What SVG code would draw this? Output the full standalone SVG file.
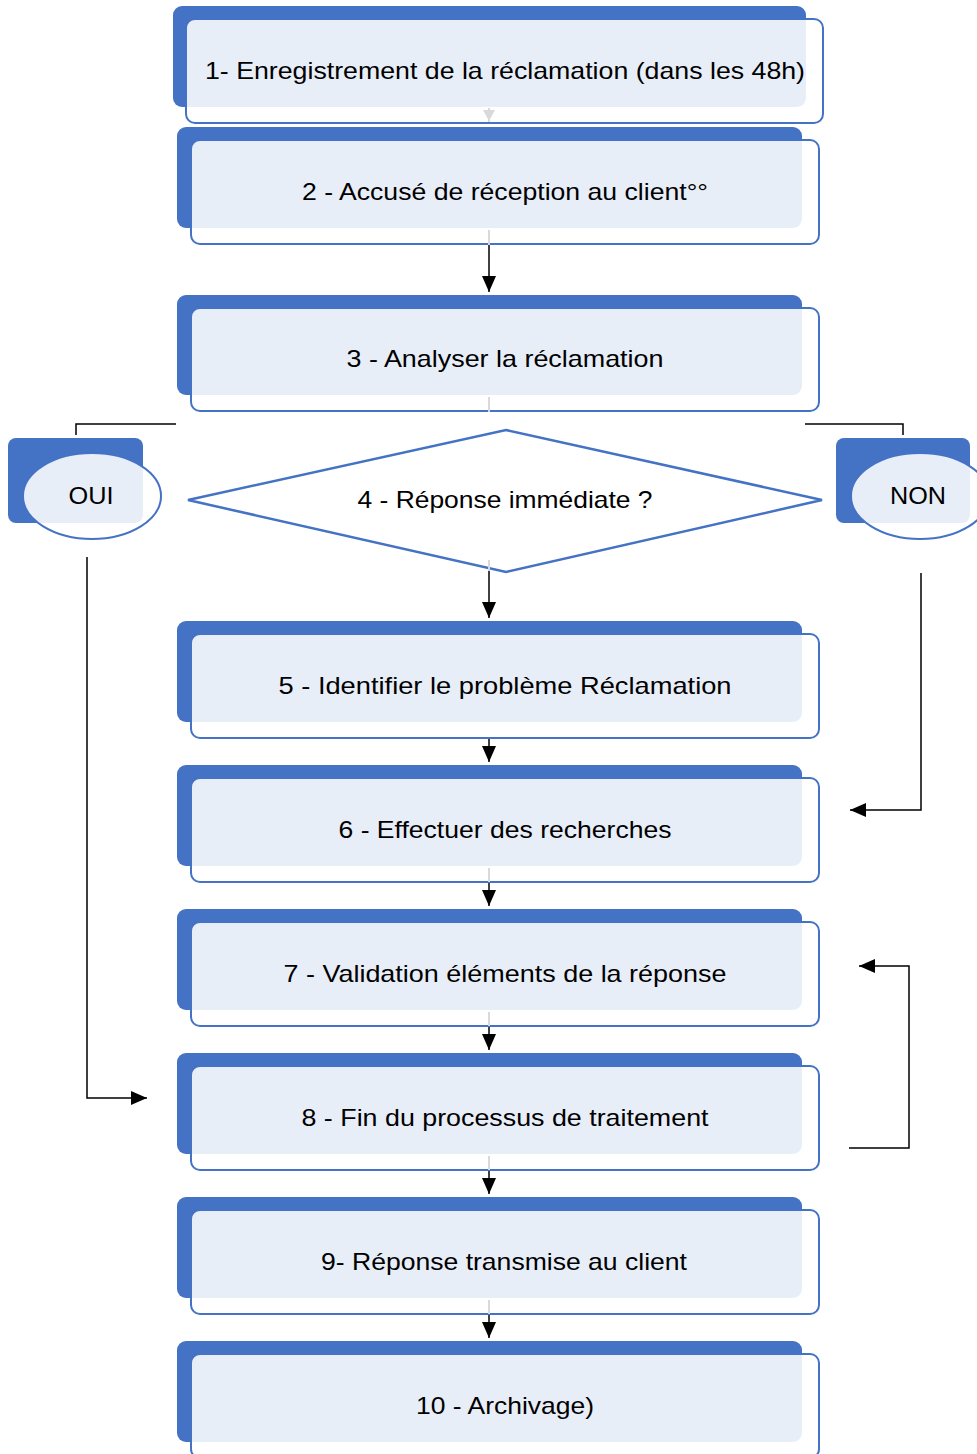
<svg xmlns="http://www.w3.org/2000/svg" width="977" height="1454" viewBox="0 0 977 1454">
<defs>
<style>
.back{fill:#4472C4}
.front{fill:#fff;fill-opacity:0.88;stroke:#4472C4;stroke-width:2}
.lbl{font-family:"Liberation Sans",Arial,sans-serif;font-size:24px;fill:#000;text-anchor:middle}
.con{fill:none;stroke:#000;stroke-width:1.5}
.faint{fill:none;stroke:#d9d9d9;stroke-width:2}
</style>
<marker id="ahb" viewBox="0 0 16 14" refX="16" refY="7" markerWidth="16" markerHeight="14" markerUnits="userSpaceOnUse" orient="auto">
<path d="M0,0 L16,7 L0,14 Z" fill="#000"/>
</marker>
</defs>
<rect width="977" height="1454" fill="#fff"/>

<g id="node1">
<rect class="back" x="173" y="6" width="633" height="101" rx="9"/>
<rect class="front" x="186" y="19" width="637" height="104" rx="9"/>
<text class="lbl" x="505" y="79" textLength="600" lengthAdjust="spacingAndGlyphs">1- Enregistrement de la réclamation (dans les 48h)</text>
</g>
<g id="node2">
<rect class="back" x="177" y="127" width="625" height="101" rx="9"/>
<rect class="front" x="191" y="140" width="628" height="104" rx="9"/>
<text class="lbl" x="505" y="200" textLength="406" lengthAdjust="spacingAndGlyphs">2 - Accusé de réception au client°°</text>
</g>
<g id="node3">
<rect class="back" x="177" y="295" width="625" height="100" rx="9"/>
<rect class="front" x="191" y="308" width="628" height="103" rx="9"/>
<text class="lbl" x="505" y="367" textLength="317" lengthAdjust="spacingAndGlyphs">3 - Analyser la réclamation</text>
</g>
<g id="node4">
<polygon points="188,500 506,430 822,500 506,572" fill="#fff" stroke="#4472C4" stroke-width="2.5"/>
<text class="lbl" x="505" y="508" textLength="295" lengthAdjust="spacingAndGlyphs">4 - Réponse immédiate ?</text>
</g>
<g id="oui">
<rect class="back" x="8" y="438" width="135" height="85" rx="8"/>
<ellipse class="front" cx="92" cy="496" rx="69" ry="43"/>
<text class="lbl" x="91" y="504" textLength="45" lengthAdjust="spacingAndGlyphs">OUI</text>
</g>
<g id="non">
<rect class="back" x="836" y="438" width="134" height="85" rx="8"/>
<ellipse class="front" cx="920" cy="496" rx="69" ry="43"/>
<text class="lbl" x="918" y="504" textLength="56" lengthAdjust="spacingAndGlyphs">NON</text>
</g>
<g id="node5">
<rect class="back" x="177" y="621" width="625" height="101" rx="9"/>
<rect class="front" x="191" y="634" width="628" height="104" rx="9"/>
<text class="lbl" x="505" y="694" textLength="453" lengthAdjust="spacingAndGlyphs">5 - Identifier le problème Réclamation</text>
</g>
<g id="node6">
<rect class="back" x="177" y="765" width="625" height="101" rx="9"/>
<rect class="front" x="191" y="778" width="628" height="104" rx="9"/>
<text class="lbl" x="505" y="838" textLength="333" lengthAdjust="spacingAndGlyphs">6 - Effectuer des recherches</text>
</g>
<g id="node7">
<rect class="back" x="177" y="909" width="625" height="101" rx="9"/>
<rect class="front" x="191" y="922" width="628" height="104" rx="9"/>
<text class="lbl" x="505" y="982" textLength="443" lengthAdjust="spacingAndGlyphs">7 - Validation éléments de la réponse</text>
</g>
<g id="node8">
<rect class="back" x="177" y="1053" width="625" height="101" rx="9"/>
<rect class="front" x="191" y="1066" width="628" height="104" rx="9"/>
<text class="lbl" x="505" y="1126" textLength="407" lengthAdjust="spacingAndGlyphs">8 - Fin du processus de traitement</text>
</g>
<g id="node9">
<rect class="back" x="177" y="1197" width="625" height="101" rx="9"/>
<rect class="front" x="191" y="1210" width="628" height="104" rx="9"/>
<text class="lbl" x="504" y="1270" textLength="366" lengthAdjust="spacingAndGlyphs">9- Réponse transmise au client</text>
</g>
<g id="node10">
<rect class="back" x="177" y="1341" width="625" height="101" rx="9"/>
<rect class="front" x="191" y="1354" width="628" height="104" rx="9"/>
<text class="lbl" x="505" y="1414" textLength="178" lengthAdjust="spacingAndGlyphs">10 - Archivage)</text>
</g>

<g id="connectors">
<path class="faint" d="M489,108 V122"/>
<path d="M483,110 L495,110 L489,121 Z" fill="#d9d9d9"/>
<path class="faint" d="M489,230 V245"/>
<path class="con" d="M489,245 V292" marker-end="url(#ahb)"/>
<path class="faint" d="M489,397 V412"/>
<path class="faint" d="M489,560 V571"/>
<path class="con" d="M489,571 V618" marker-end="url(#ahb)"/>
<path class="con" d="M489,739 V762" marker-end="url(#ahb)"/>
<path class="faint" d="M489,868 V882"/>
<path class="con" d="M489,883 V906" marker-end="url(#ahb)"/>
<path class="faint" d="M489,1012 V1026"/>
<path class="con" d="M489,1027 V1050" marker-end="url(#ahb)"/>
<path class="faint" d="M489,1156 V1170"/>
<path class="con" d="M489,1171 V1194" marker-end="url(#ahb)"/>
<path class="faint" d="M489,1300 V1314"/>
<path class="con" d="M489,1315 V1338" marker-end="url(#ahb)"/>
<path class="con" d="M76,435 V424 H176"/>
<path class="con" d="M805,424 H903 V435"/>
<path class="con" d="M87,557 V1098 H147" marker-end="url(#ahb)"/>
<path class="con" d="M921,573 V810 H850" marker-end="url(#ahb)"/>
<path class="con" d="M849,1148 H909 V966 H859" marker-end="url(#ahb)"/>
</g>
</svg>
